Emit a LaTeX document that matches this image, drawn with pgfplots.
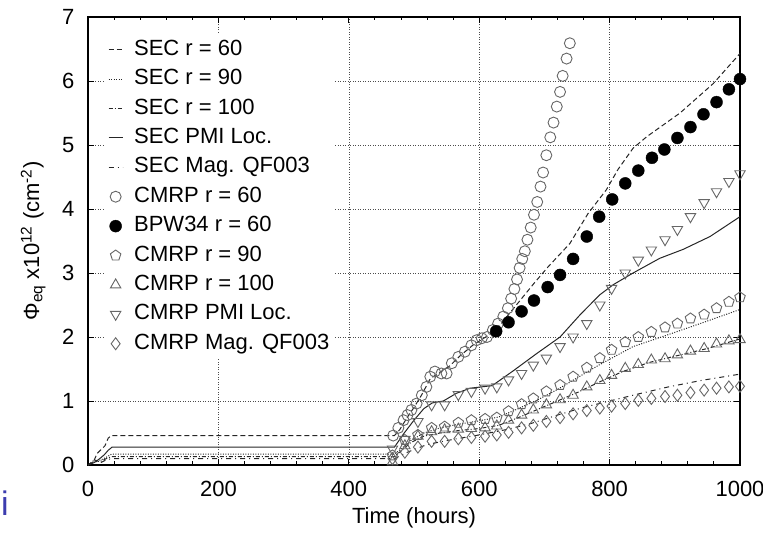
\documentclass[border=0pt]{standalone}
\usepackage{fontspec}
\setmainfont{Liberation Sans}
\usepackage{pgfplots}
\pgfplotsset{compat=1.18}
\begin{document}
\begin{tikzpicture}
\begin{axis}[name=ax,
  width=652bp, height=448bp, scale only axis,
  xmin=0, xmax=1000, ymin=0, ymax=7,
  xtick={0,200,...,1000}, ytick={0,...,7},
  minor x tick num=4,
  scaled ticks=false,
  tick align=inside,
  major tick length=6bp, minor tick length=3.5bp,
  every tick/.style={black, line width=0.9bp},
  grid=major,
  major grid style={black!70, line width=0.6bp, dash pattern=on 1bp off 1.5bp},
  axis line style={line width=1.1bp},
  /pgf/number format/assume math mode=true,
  /pgf/number format/set thousands separator={},
  tick label style={font=\fontsize{22bp}{26bp}\selectfont},
  xticklabel style={yshift=-13bp},
  yticklabel style={xshift=-10bp},
  label style={font=\fontsize{22bp}{26bp}\selectfont},
  xlabel={Time (hours)},
  xlabel style={at={(axis description cs:0.5,-0.117)}, anchor=center},
  ylabel={Φ\textsubscript{eq} x10\textsuperscript{12} (cm\textsuperscript{-2})},
  ylabel style={at={(axis description cs:-0.084,0.5)}, anchor=center},
  legend cell align=left,
  legend style={at={(axis description cs:0.026,0.962)}, anchor=north west,
    draw=none, fill=white, font=\fontsize{22bp}{26bp}\selectfont,
    row sep=4.4bp, inner sep=3bp,
    nodes={text height=16bp, text depth=5bp, inner sep=2bp},
    /tikz/every odd column/.append style={column sep=9bp}},
  legend image code/.code={\draw[mark repeat=2,mark phase=2,#1] plot coordinates {(0bp,0bp)(7bp,0bp)(14bp,0bp)};},
]
% SEC r = 60
\addplot[black!85, line width=1bp, dash pattern=on 5bp off 3bp] coordinates {
(0,0)(8,0.04)(14,0.18)(20,0.24)(26,0.3)(31,0.42)(36,0.46)(470,0.46)(478,0.55)(490,0.75)(500,0.9)(512,1.1)(525,1.35)(540,1.45)(555,1.55)(570,1.7)(590,1.87)(610,2.0)(625,2.1)(645,2.35)(665,2.6)(685,2.85)(706,3.1)(739,3.46)(767,3.93)(795,4.3)(813,4.62)(836,4.95)(857,5.13)(908,5.5)(959,5.96)(1000,6.43)};
\addlegendentry{SEC r = 60}
% SEC r = 90
\addplot[black!85, line width=1bp, dash pattern=on 1bp off 1.5bp] coordinates {
(0,0)(10,0.06)(20,0.08)(28,0.12)(36,0.17)(470,0.17)(480,0.25)(495,0.38)(515,0.5)(540,0.58)(570,0.64)(600,0.69)(630,0.75)(660,0.88)(690,1.02)(720,1.18)(750,1.36)(785,1.57)(836,1.85)(888,2.03)(939,2.21)(1000,2.43)};
\addlegendentry{SEC r = 90}
% SEC r = 100
\addplot[black!85, line width=1bp, dash pattern=on 4bp off 2bp on 1bp off 2bp] coordinates {
(0,0)(10,0.08)(18,0.05)(28,0.1)(36,0.13)(470,0.13)(480,0.22)(495,0.35)(515,0.45)(540,0.5)(570,0.54)(600,0.57)(630,0.62)(660,0.74)(690,0.87)(720,1.0)(750,1.13)(785,1.3)(820,1.46)(860,1.6)(900,1.7)(950,1.82)(1000,1.97)};
\addlegendentry{SEC r = 100}
% SEC PMI Loc.
\addplot[black!85, line width=1bp] coordinates {
(0,0)(10,0.04)(18,0.1)(25,0.16)(31,0.23)(37,0.28)(470,0.28)(485,0.5)(500,0.7)(515,0.88)(528,0.97)(545,1.0)(565,1.12)(586,1.2)(620,1.24)(652,1.47)(688,1.74)(724,2.0)(755,2.35)(785,2.66)(806,2.82)(836,3.0)(877,3.23)(913,3.37)(954,3.57)(1000,3.88)};
\addlegendentry{SEC PMI Loc.}
% SEC Mag. QF003
\addplot[black!85, line width=1bp, dash pattern=on 5bp off 4bp on 1bp off 4bp] coordinates {
(0,0)(10,0.06)(20,0.04)(28,0.08)(36,0.10)(470,0.10)(490,0.2)(520,0.32)(560,0.4)(600,0.47)(640,0.55)(680,0.65)(720,0.78)(760,0.9)(800,1.0)(840,1.1)(890,1.22)(940,1.32)(1000,1.42)};
\addlegendentry{SEC Mag. QF003}
% CMRP r = 60
\addplot[only marks, mark=o, mark size=5.5bp, mark options={black!60, line width=0.9bp}] coordinates {
(468,0.46)(476,0.58)(484,0.70)(490,0.78)(496,0.86)(504,0.96)(512,1.09)(519,1.22)(525,1.38)(532,1.46)(542,1.43)(550,1.43)(558,1.59)(568,1.69)(578,1.77)(588,1.87)(596,1.95)(604,1.98)(612,2.0)(621,2.11)(629,2.21)(637,2.32)(644,2.45)(649,2.6)(654,2.75)(658,2.9)(662,3.08)(666,3.22)(670,3.34)(674,3.52)(679,3.71)(684,3.91)(689,4.11)(694,4.35)(698,4.57)(703,4.84)(709,5.12)(714,5.35)(719,5.60)(724,5.83)(728,6.08)(734,6.35)(739,6.59)};
\addlegendentry{CMRP r = 60}
% BPW34 r = 60
\addplot[only marks, mark=*, mark size=6bp, mark options={black}] coordinates {
(626,2.09)(645,2.23)(665,2.40)(684,2.57)(705,2.78)(724,2.97)(744,3.22)(765,3.57)(784,3.88)(804,4.15)(824,4.40)(844,4.60)(865,4.80)(884,4.93)(904,5.11)(924,5.28)(944,5.48)(964,5.67)(983,5.87)(1000,6.03)};
\addlegendentry{BPW34 r = 60}
% CMRP r = 90
\addplot[only marks, mark=pentagon, mark size=5.5bp, mark options={black!60, line width=0.9bp}] coordinates {
(467,0.15)(486,0.39)(506,0.47)(527,0.58)(547,0.6)(568,0.66)(588,0.70)(609,0.72)(627,0.74)(645,0.84)(665,0.95)(683,1.04)(703,1.15)(724,1.25)(744,1.38)(765,1.52)(785,1.67)(803,1.80)(824,1.92)(844,2.0)(864,2.08)(885,2.15)(904,2.21)(924,2.29)(945,2.35)(964,2.45)(983,2.55)(1000,2.62)};
\addlegendentry{CMRP r = 90}
% CMRP r = 100
\addplot[only marks, mark=triangle, mark size=6bp, mark options={black!60, line width=0.9bp}] coordinates {
(467,0.05)(486,0.3)(506,0.45)(527,0.52)(547,0.55)(568,0.56)(588,0.57)(609,0.58)(627,0.61)(645,0.70)(665,0.78)(683,0.86)(703,0.94)(724,1.02)(744,1.09)(765,1.22)(785,1.32)(803,1.40)(824,1.51)(844,1.57)(864,1.64)(885,1.66)(904,1.72)(924,1.78)(945,1.82)(964,1.89)(983,1.94)(1000,1.96)};
\addlegendentry{CMRP r = 100}
% CMRP PMI Loc.
\addplot[only marks, mark=triangle, mark size=6bp, mark options={black!60, line width=0.9bp, rotate=180}] coordinates {
(467,0.25)(486,0.4)(506,0.68)(527,0.94)(547,0.94)(568,1.1)(588,1.15)(609,1.2)(627,1.22)(645,1.33)(665,1.43)(683,1.56)(703,1.67)(724,1.85)(744,2.0)(765,2.21)(785,2.5)(803,2.76)(824,3.0)(844,3.2)(864,3.36)(885,3.52)(904,3.68)(924,3.88)(945,4.10)(964,4.27)(983,4.43)(1000,4.55)};
\addlegendentry{CMRP PMI Loc.}
% CMRP Mag. QF003
\addplot[only marks, mark=diamond, mark size=6bp, mark options={black!60, line width=0.9bp}] coordinates {
(467,0.1)(486,0.2)(506,0.28)(527,0.37)(547,0.37)(568,0.41)(588,0.43)(609,0.45)(627,0.47)(645,0.51)(665,0.58)(683,0.62)(703,0.68)(724,0.74)(744,0.8)(765,0.85)(785,0.89)(803,0.92)(824,0.96)(844,1.01)(864,1.04)(885,1.07)(904,1.09)(924,1.13)(945,1.17)(964,1.20)(983,1.22)(1000,1.23)};
\addlegendentry{CMRP Mag. QF003}
\end{axis}
\node[anchor=base, text={rgb,255:red,60;green,60;blue,175}, font=\fontsize{34bp}{40bp}\selectfont, inner sep=0pt] at ([xshift=-83bp,yshift=-50bp]ax.south west) {i};
\pgfresetboundingbox
\path[use as bounding box] ([xshift=-88bp,yshift=-69bp]ax.south west) rectangle ([xshift=23bp,yshift=17bp]ax.north east);
\end{tikzpicture}
\end{document}
